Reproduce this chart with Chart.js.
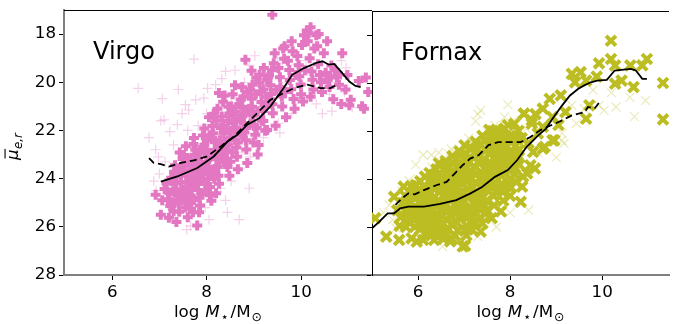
<!DOCTYPE html>
<html>
<head>
<meta charset="utf-8">
<script src="https://cdn.jsdelivr.net/npm/chart.js@4.4.1/dist/chart.umd.min.js"></script>
<style>
  html, body { margin: 0; padding: 0; background: #fff; }
  #wrap { position: relative; width: 680px; height: 324px; overflow: hidden; }
  #wrap canvas { position: absolute; left: 0; top: 0; }
</style>
</head>
<body>
<div id="wrap">
  <canvas id="virgo" width="680" height="324"></canvas>
  <canvas id="fornax" width="680" height="324"></canvas>
</div>
<script>
// tick values
const yTicks = [18, 20, 22, 24, 26, 28];
const xTicks = [6, 8, 10];

// Virgo: faint "+" sample and bold "P" sample, [logM, mu]
const virgoFaint = [
  [6.55,20.25],[7.73,19.04],[8.4,19.55],[8.19,20.1],[7.06,20.68],[7.55,20.93],[7.77,20.73],[7.94,20.66],
  [6.78,22.3],[7.1,21.56],[7.38,21.76],[7.03,21.6],[6.92,22.8],[7.22,22.05],[7.48,21.3],[7.62,21.15],
  [8.02,20.25],[8.32,19.85],[8.6,19.5],[8.9,19.3],[9.02,18.9],[9.6,19.2],[7.3,22.6],[7.12,23.3],
  [6.88,24.1],[7.0,23.8],[7.42,22.9],[7.82,21.8],[8.1,21.5],[8.52,20.6],[8.8,20.0],[9.22,19.8],
  [9.5,19.0],[9.9,19.25],[10.22,19.7],[10.45,21.3],[10.6,20.5],[10.85,19.1],[11.08,21.05],[10.92,20.4],
  [9.8,21.3],[9.52,21.7],[9.92,20.7],[9.2,22.3],[8.92,23.1],[8.7,23.6],[8.52,24.1],[8.3,24.4],
  [8.69,25.7],[8.44,25.4],[7.66,25.96],[7.58,26.12],[8.05,25.7],[7.97,25.2],[7.18,25.1],[6.93,24.5],
  [7.45,24.8],[7.85,24.7],[8.62,22.2],[9.02,21.2],[9.42,20.3],[10.02,20.1],[10.32,20.9],[10.72,20.0],
  [7.4,20.3],[7.6,22.0],[8.12,22.9],[8.75,22.9],[9.15,20.9],[9.7,20.0],[10.1,19.1],[10.55,19.95],
  [10.95,19.4],[8.3,21.0],[8.0,21.3],[9.55,22.1],[10.65,21.2],[6.98,23.1],[7.2,24.3],[8.4,24.9],[8.9,24.4]
];
const virgoBright = [
  [6.92,24.67],[7.03,25.5],[7.06,24.9],[7.11,24.43],
  [7.15,24.2],[7.18,24.86],[7.23,25.14],[7.25,23.96],[7.2,25.62],[7.29,24.52],[7.31,23.71],
  [7.33,23.44],[7.36,24.18],[7.38,24.71],[7.41,25.03],[7.42,25.37],[7.45,23.88],[7.47,24.46],[7.36,25.8],[7.49,23.18],[7.43,22.92],
  [7.52,23.02],[7.55,23.47],[7.58,23.79],[7.61,24.16],[7.62,24.57],[7.64,24.9],[7.67,25.24],[7.56,22.66],[7.69,24.31],[7.6,25.6],[7.71,23.62],[7.53,24.77],[7.65,23.21],
  [7.72,22.56],[7.74,23.01],[7.77,23.34],[7.78,23.71],[7.81,24.04],[7.82,24.47],[7.85,24.79],[7.86,25.11],[7.73,22.31],[7.88,23.49],[7.9,24.62],[7.84,25.4],[7.8,25.95],[7.75,24.26],[7.87,22.91],
  [7.92,22.21],[7.95,22.6],[7.96,22.94],[7.99,23.31],[8.0,23.66],[8.03,24.01],[8.04,24.36],[8.07,24.69],[7.95,21.92],[8.08,23.1],[8.1,24.92],[8.05,21.45],[7.93,23.82],[8.01,22.41],
  [8.12,21.81],[8.14,22.12],[8.17,22.49],[8.18,22.82],[8.21,23.19],[8.22,23.52],[8.25,23.88],[8.26,24.21],[8.15,21.31],[8.28,22.41],[8.3,23.02],[8.2,24.61],[8.26,20.45],[8.12,23.7],
  [8.32,21.42],[8.35,21.79],[8.36,22.12],[8.39,22.49],[8.4,22.81],[8.43,23.18],[8.44,23.52],[8.35,20.81],[8.46,21.02],[8.48,23.88],[8.5,22.01],[8.38,20.55],[8.45,21.61],
  [8.52,21.01],[8.55,21.32],[8.56,21.69],[8.59,22.02],[8.6,22.39],[8.63,22.71],[8.64,23.09],[8.55,20.5],[8.66,23.61],[8.68,21.49],[8.6,20.12],
  [8.72,20.71],[8.75,21.02],[8.76,21.39],[8.79,21.72],[8.8,22.08],[8.83,22.41],[8.84,22.79],[8.75,20.21],[8.86,23.35],[8.88,21.21],[8.82,19.07],
  [8.92,20.31],[8.95,20.68],[8.96,21.02],[8.99,21.39],[9.0,21.81],[9.03,22.18],[9.05,19.81],[9.08,23.0],[9.1,22.6],[8.95,19.52],
  [9.12,20.02],[9.15,20.39],[9.16,20.82],[9.19,21.19],[9.2,21.61],[9.21,19.41],[9.24,22.01],[9.26,20.6],[9.28,19.9],[9.28,21.98],
  [9.32,19.71],[9.35,20.12],[9.36,20.49],[9.39,20.91],[9.4,21.29],[9.42,19.21],[9.44,18.8],[9.46,21.8],[9.39,17.2],[9.48,20.31],
  [9.52,19.41],[9.55,19.79],[9.56,20.21],[9.59,20.59],[9.6,21.01],[9.62,18.6],[9.65,18.5],[9.64,19.02],[9.68,21.45],[9.66,20.4],
  [9.72,19.11],[9.75,19.49],[9.76,19.91],[9.79,20.29],[9.8,18.3],[9.82,18.71],[9.84,20.69],[9.86,21.1],[9.88,19.7],
  [9.92,18.91],[9.95,19.29],[9.96,19.75],[9.99,20.09],[10.0,20.5],[10.02,18.45],[10.04,20.8],[10.06,18.05],[10.08,19.5],
  [10.12,17.85],[10.16,17.96],[10.2,17.72],[10.14,18.3],[10.18,19.0],[10.22,19.55],[10.24,19.9],[10.26,20.3],[10.28,18.6],[10.2,20.6],
  [10.32,18.05],[10.37,18.0],[10.34,18.5],[10.36,19.25],[10.4,19.7],[10.42,20.0],[10.44,20.4],[10.48,18.8],
  [10.55,18.3],[10.52,19.6],[10.56,19.9],[10.6,20.2],[10.64,19.3],[10.68,20.7],[10.62,19.75],
  [10.72,19.5],[10.76,19.8],[10.87,18.8],[10.8,20.1],[10.85,20.9],[10.78,19.65],
  [10.94,20.3],[10.98,19.7],[11.05,20.73],[11.02,20.95],
  [11.22,19.95],[11.29,21.0],[11.33,21.1],[11.37,19.8],[11.42,20.4],
  // core fill
  [7.21,24.6],[7.27,24.1],[7.32,25.0],[7.34,24.45],[7.39,23.8],[7.4,24.9],[7.46,24.15],[7.5,24.6],[7.3,25.35],[7.44,23.6],
  [7.54,23.7],[7.57,24.35],[7.6,23.3],[7.63,24.0],[7.66,24.7],[7.69,23.45],[7.7,24.05],[7.73,24.9],[7.76,22.8],[7.79,23.9],
  [7.62,25.0],[7.71,25.4],[7.55,25.2],
  [7.82,23.2],[7.85,23.6],[7.88,24.1],[7.91,22.7],[7.94,23.45],[7.97,24.2],[8.0,22.8],[8.03,23.5],[8.06,22.2],[8.09,23.85],
  [7.98,24.5],[8.07,24.35],
  [8.12,22.3],[8.15,22.95],[8.18,23.6],[8.21,21.6],[8.24,22.65],[8.27,23.3],[8.3,21.9],[8.33,22.8],[8.36,23.3],[8.16,24.0],[8.23,21.1],
  [8.42,22.0],[8.45,22.6],[8.48,21.3],[8.51,22.3],[8.54,22.9],[8.57,21.6],[8.6,21.2],[8.63,21.9],[8.66,22.5],[8.69,20.9],[8.5,23.3],
  [8.72,21.5],[8.75,22.2],[8.78,20.6],[8.81,21.3],[8.84,21.9],[8.87,20.4],[8.9,21.1],[8.93,21.7],[8.97,20.1],[8.99,22.5],
  [9.04,20.5],[9.08,21.2],[9.12,19.7],[9.16,21.6],[9.2,20.3],[9.25,21.0],[9.3,19.8],[9.35,20.7],[9.38,19.5],[9.06,21.9]
];
// Virgo running curves
const virgoSolidX = [7.03,7.38,7.8,8.15,8.44,8.65,8.86,9.11,9.35,9.63,9.81,10.06,10.34,10.45,10.59,10.7,10.84,11.02,11.15,11.26];
const virgoSolidY = [24.12,23.91,23.56,23.08,22.46,22.18,21.76,21.49,21.0,20.24,19.69,19.41,19.18,19.13,19.27,19.24,19.55,19.97,20.15,20.2];
const virgoDashX = [6.78,6.88,7.03,7.2,7.45,7.73,8.01,8.3,8.58,8.86,9.14,9.35,9.63,9.85,10.13,10.41,10.62,10.77];
const virgoDashY = [23.15,23.35,23.4,23.5,23.35,23.24,23.08,22.66,22.25,21.69,21.14,20.73,20.45,20.24,20.1,20.24,20.24,20.1];

// Fornax: faint "x" sample and bold "X" sample, [logM, mu]
const fornaxFaint = [
  [7.36,21.14],[7.3,21.3],[7.88,21.42],[7.67,21.76],[7.18,22.46],[8.08,21.56],[9.12,22.39],[9.44,21.69],
  [9.34,20.93],[9.61,21.07],[10.94,20.73],[10.04,21.14],[9.13,22.1],[9.17,22.52],[9.93,20.93],[6.11,23.0],
  [6.29,23.0],[6.45,22.9],[6.66,22.94],[6.87,23.0],[6.98,22.59],[7.05,22.7],[6.3,23.5],[5.95,23.4],
  [6.5,23.3],[6.72,22.75],[7.5,22.0],[7.75,22.3],[8.2,22.0],[8.6,22.9],[9.0,23.1],[9.8,20.3],
  [10.3,21.0],[10.6,20.6],[6.53,26.81],[5.52,26.05],[5.37,25.08],[5.25,25.4],[5.65,24.5],[5.8,24.05],
  [6.0,24.0],[8.4,25.3],[7.7,26.0],[8.0,25.4],[7.3,26.4],[5.45,25.7],[6.9,26.5],[7.1,22.3],
  [7.4,22.6],[7.25,21.6],[7.95,20.9],[8.35,21.9],[9.25,21.2],[10.7,21.4],[10.2,20.4]
];
const fornaxBright = [
  [5.48,24.74],[5.55,25.3],[5.62,25.6],[5.69,24.32],[5.66,25.0],[5.6,25.95],[5.31,26.4],[5.07,25.63],[5.59,26.54],
  [5.72,24.7],[5.75,25.1],[5.78,25.45],[5.8,25.8],[5.83,24.95],[5.86,25.3],[5.88,25.65],[5.86,26.47],[5.74,26.0],[5.9,24.55],
  [5.92,24.8],[5.94,25.15],[5.97,25.5],[6.0,25.85],[6.02,24.45],[6.05,24.9],[6.07,25.3],[6.09,25.7],[5.97,26.61],[6.04,26.1],[5.95,24.25],
  [6.12,24.3],[6.14,24.65],[6.16,25.0],[6.18,25.35],[6.2,25.7],[6.22,26.05],[6.24,24.1],[6.26,24.85],[6.28,25.2],[6.3,25.55],[6.11,26.54],[6.25,25.9],
  [6.32,24.0],[6.34,24.4],[6.36,24.75],[6.38,25.1],[6.4,25.45],[6.42,25.8],[6.44,26.15],[6.35,26.54],[6.46,24.2],[6.48,24.95],[6.5,25.3],[6.47,25.65],[6.33,23.85],
  [6.52,23.9],[6.54,24.3],[6.56,24.65],[6.58,25.0],[6.6,25.35],[6.62,25.7],[6.64,26.05],[6.66,24.1],[6.68,24.8],[6.7,25.5],[6.7,26.6],[6.6,26.3],[6.55,23.6],
  [6.72,23.7],[6.74,24.05],[6.76,24.4],[6.78,24.75],[6.8,25.1],[6.82,25.45],[6.84,25.8],[6.86,26.15],[6.88,23.9],[6.9,24.6],[6.85,25.3],[6.78,23.35],
  [6.92,23.5],[6.94,23.85],[6.96,24.2],[6.98,24.55],[7.0,24.9],[7.02,25.25],[7.04,25.6],[7.06,25.95],[6.97,26.81],[7.02,26.78],[7.08,24.0],[7.1,24.75],[7.0,23.2],
  [7.12,23.3],[7.14,23.65],[7.16,24.0],[7.18,24.35],[7.2,24.7],[7.22,25.05],[7.24,25.4],[7.18,26.12],[7.26,23.8],[7.28,24.5],[7.3,25.2],[7.22,22.9],[7.15,25.75],
  [7.32,23.0],[7.34,23.35],[7.36,23.7],[7.38,24.05],[7.4,24.4],[7.42,24.75],[7.44,25.1],[7.46,25.45],[7.48,22.8],[7.5,23.55],[7.45,24.25],[7.35,22.55],[7.4,22.2],
  [7.52,22.6],[7.54,22.95],[7.56,23.3],[7.58,23.65],[7.6,24.0],[7.62,24.35],[7.64,24.7],[7.6,25.63],[7.57,22.25],[7.66,23.1],[7.68,23.85],[7.7,24.5],[7.65,25.1],[7.55,21.95],
  [7.72,22.45],[7.74,22.8],[7.76,23.15],[7.78,23.5],[7.8,23.85],[7.82,24.2],[7.84,24.55],[7.86,22.6],[7.88,21.9],[7.9,23.3],[7.85,24.9],[7.75,22.1],
  [7.92,22.6],[7.94,22.95],[7.96,23.3],[7.98,23.65],[8.0,24.0],[8.02,24.35],[8.05,22.4],[8.08,23.1],[8.1,23.8],[7.95,21.75],
  [8.13,22.6],[8.16,23.0],[8.2,23.4],[8.23,24.95],[8.25,22.3],[8.28,23.9],[8.3,21.28],[8.18,22.0],
  [6.25,23.75],[6.4,23.6],[6.45,23.35],[6.6,23.25],[6.65,23.5],[6.75,23.05],[6.85,23.15],[6.9,22.85],
  [7.05,22.95],[7.15,22.7],[7.25,22.45],[7.3,22.75],[7.45,22.4],[6.95,23.7],[6.5,26.1],[6.8,26.35],
  [7.05,26.35],[6.3,26.2],[7.25,25.8],[7.4,25.85],[5.85,24.3],[6.05,24.1],[6.15,23.9],[7.6,22.55],
  [7.8,22.3],[8.0,22.2],[8.15,22.35],[7.7,22.0],[7.42,23.85],[7.8,25.35],[8.0,24.7],[7.5,25.3],
  [6.55,25.85],[6.1,25.55],[6.95,25.55],[7.3,24.95],[7.36,26.19],
  [8.37,23.77],[8.54,23.56],[8.44,23.43],[8.26,24.32],[8.5,22.87],[8.71,22.73],[8.96,22.39],[8.75,22.66],
  [8.47,21.56],[8.47,21.69],[8.71,21.83],[8.92,21.42],[8.92,22.39],[8.09,21.7],[7.84,21.97],[8.3,21.28],
  [8.71,21.07],[8.86,20.66],[9.1,20.52],[9.2,21.21],[9.65,21.49],[9.72,20.93],[9.34,19.62],[9.53,19.55],
  [9.41,19.97],[9.65,19.9],[9.88,19.73],[9.93,19.18],[10.19,19.0],[10.19,18.24],[10.28,19.27],[10.61,19.27],
  [10.87,19.27],[10.97,19.0],[10.42,19.9],[10.28,20.03],[10.68,20.17],[11.32,20.0],[11.32,21.52],[8.6,22.1],
  [8.4,22.5],[8.55,21.3],[9.05,21.75],
  // core fill
  [5.73,25.3],[5.77,24.9],[5.81,25.6],[5.85,24.7],[5.89,25.45],[5.93,26.0],[5.96,24.6],[5.99,25.3],
  [6.03,25.6],[6.06,24.7],[6.1,25.1],[6.13,25.85],[6.17,24.45],[6.2,25.2],[6.23,25.5],[6.27,24.6],[6.29,26.35],[6.19,26.2],
  [6.33,25.3],[6.37,24.2],[6.4,25.0],[6.43,25.6],[6.46,24.55],[6.5,25.95],[6.53,24.1],[6.57,25.2],[6.59,24.45],[6.42,26.4],[6.55,26.5],
  [6.63,24.6],[6.67,25.3],[6.7,23.9],[6.73,24.6],[6.77,25.9],[6.8,24.2],[6.83,25.0],[6.87,24.4],[6.89,25.6],[6.75,26.5],[6.65,23.8],
  [6.93,24.1],[6.97,24.9],[7.0,25.4],[7.03,23.6],[7.07,24.4],[7.1,25.2],[7.13,23.9],[7.17,24.6],[7.19,25.3],[7.08,26.1],[7.01,22.6],
  [7.23,23.5],[7.27,24.2],[7.3,23.3],[7.33,24.7],[7.37,23.9],[7.4,25.2],[7.43,23.2],[7.47,24.0],[7.49,24.9],[7.35,25.6],
  [7.53,23.9],[7.56,24.3],[7.6,22.8],[7.63,23.5],[7.67,24.2],[7.7,22.6],[7.73,23.4],[7.77,24.4],[7.79,22.2],[7.62,22.0],
  [7.83,23.0],[7.87,23.7],[7.9,22.2],[7.93,24.3],[7.97,22.4],[8.0,23.5],[8.04,22.9],[8.07,23.4],[8.12,24.1],[8.15,23.3],[8.19,22.8]
];
// Fornax running curves
const fornaxSolidX = [5.0,5.16,5.34,5.48,5.61,5.79,6.13,6.48,6.83,7.14,7.39,7.67,7.95,8.15,8.36,8.61,8.78,8.92,9.13,9.3,9.48,9.61,9.75,9.89,10.1,10.27,10.62,10.73,10.87,10.97];
const fornaxSolidY = [26.05,25.78,25.43,25.43,25.22,25.15,25.15,25.04,24.88,24.6,24.33,23.91,23.63,23.22,22.66,22.18,21.9,21.49,20.93,20.52,20.24,20.1,19.97,19.9,19.87,19.48,19.41,19.48,19.83,19.83];
const fornaxDashX = [5.51,5.65,5.79,5.93,6.13,6.41,6.62,6.8,6.97,7.14,7.32,7.53,7.74,8.02,8.23,8.44,8.65,8.89,9.13,9.34,9.62,9.69,9.83,9.97];
const fornaxDashY = [25.08,24.81,24.6,24.64,24.46,24.25,24.12,23.77,23.42,23.14,23.0,22.59,22.46,22.46,22.46,22.25,21.97,21.76,21.56,21.35,21.21,21.0,21.07,20.73];

const PINK = '#e377c2';
const OLIVE = '#bcbd22';
const FONT = '"DejaVu Sans", sans-serif';

const toPts = (pairs) => pairs.map(([x, y]) => ({ x, y }));
const zipPts = (xs, ys) => xs.map((x, i) => ({ x, y: ys[i] }));

function drawMassLabel(ctx, cx, base) {
  const parts = [
    { t: 'log', f: '16.7px ' + FONT, dy: 0, gap: 6 },
    { t: 'M', f: 'italic 16.7px ' + FONT, dy: 0, gap: 1 },
    { t: '\u22c6', f: '12.5px ' + FONT, dy: 3.5, gap: 2 },
    { t: '/M', f: '16.7px ' + FONT, dy: 0, gap: 1 },
    { t: '\u2299', f: '12.5px ' + FONT, dy: 3.5, gap: 0 },
  ];
  let w = 0;
  parts.forEach((p) => { ctx.font = p.f; p.w = ctx.measureText(p.t).width; w += p.w + p.gap; });
  let x = cx - w / 2;
  ctx.textBaseline = 'alphabetic';
  parts.forEach((p) => { ctx.font = p.f; ctx.fillText(p.t, x, base + p.dy); x += p.w + p.gap; });
}

function drawMuLabel(ctx, bx, by) {
  ctx.save();
  ctx.translate(bx, by);
  ctx.rotate(-Math.PI / 2);
  ctx.textBaseline = 'alphabetic';
  ctx.font = 'italic 16.7px ' + FONT;
  const mw = ctx.measureText('\u03bc').width;
  ctx.fillText('\u03bc', 0, 0);
  ctx.fillRect(1.5, -13.5, mw - 1, 1.1);
  ctx.font = 'italic 11.7px ' + FONT;
  ctx.fillText('e,r', mw + 0.5, 3.5);
  ctx.restore();
}

const panelDecor = {
  id: 'panelDecor',
  afterDraw(chart, args, opts) {
    const { ctx, chartArea: a } = chart;
    ctx.save();
    ctx.strokeStyle = '#000';
    ctx.lineWidth = 1;
    ctx.beginPath();
    ctx.moveTo(a.left, Math.round(a.top) + 0.5);
    ctx.lineTo(a.right, Math.round(a.top) + 0.5);
    ctx.stroke();
    ctx.fillStyle = '#000';
    ctx.font = '24px ' + FONT;
    ctx.textBaseline = 'alphabetic';
    ctx.fillText(opts.name, a.left + 29, a.top + 49);
    drawMassLabel(ctx, (a.left + a.right) / 2, 317);
    if (opts.yTitle) drawMuLabel(ctx, 18, 160);
    ctx.restore();
  },
};

function makePanel(id, cfg) {
  const ctx = document.getElementById(id).getContext('2d');
  return new Chart(ctx, {
    type: 'scatter',
    data: {
      datasets: [
        { type: 'line', data: zipPts(cfg.solidX, cfg.solidY), borderColor: '#000', borderWidth: 1.8,
          pointRadius: 0, fill: false, tension: 0, order: 0, clip: 0 },
        { type: 'line', data: zipPts(cfg.dashX, cfg.dashY), borderColor: '#000', borderWidth: 1.8,
          borderDash: [7, 4], pointRadius: 0, fill: false, tension: 0, order: 0, clip: 0 },
        { data: toPts(cfg.bright), pointStyle: cfg.style, pointRadius: cfg.brightR, borderWidth: 4,
          pointBorderColor: cfg.color, pointBackgroundColor: cfg.color, order: 1, clip: 0 },
        { data: toPts(cfg.faint), pointStyle: cfg.style, pointRadius: cfg.faintR, borderWidth: 1.2,
          pointBorderColor: cfg.faintColor, pointBackgroundColor: cfg.faintColor, order: 2, clip: 0 },
      ],
    },
    options: {
      responsive: false,
      animation: false,
      events: [],
      layout: { padding: cfg.padding },
      plugins: {
        legend: { display: false },
        tooltip: { enabled: false },
        panelDecor: { name: cfg.name, yTitle: cfg.yTitle },
      },
      scales: {
        x: {
          type: 'linear',
          min: cfg.xMin,
          max: cfg.xMax,
          afterBuildTicks: (s) => { s.ticks = xTicks.map((v) => ({ value: v })); },
          afterFit: (s) => { s.height = 49; s.paddingLeft = 0; s.paddingRight = 0; },
          grid: { drawOnChartArea: false, drawTicks: true, tickLength: 5, tickColor: '#000', tickWidth: 1 },
          border: { display: true, color: '#808080', width: 2 },
          ticks: { color: '#000', padding: 3, maxRotation: 0, font: { family: FONT, size: 16.7 } },
        },
        y: {
          type: 'linear',
          reverse: true,
          min: 17,
          max: 28,
          afterBuildTicks: (s) => { s.ticks = yTicks.map((v) => ({ value: v })); },
          afterFit: (s) => { s.width = cfg.yWidth; s.paddingTop = 0; s.paddingBottom = 0; },
          grid: { drawOnChartArea: false, drawTicks: true, tickLength: 5, tickColor: '#000', tickWidth: 1 },
          border: { display: true, color: cfg.yBorder, width: cfg.yBorderW },
          ticks: { display: cfg.yLabels, color: '#000', padding: 3, font: { family: FONT, size: 16.7 } },
        },
      },
    },
    plugins: [panelDecor],
  });
}

makePanel('virgo', {
  name: 'Virgo', yTitle: true,
  solidX: virgoSolidX, solidY: virgoSolidY, dashX: virgoDashX, dashY: virgoDashY,
  bright: virgoBright, faint: virgoFaint,
  style: 'cross', brightR: 5, faintR: 5,
  color: PINK, faintColor: 'rgba(227,119,194,0.35)',
  xMin: 4.98, xMax: 11.5,
  padding: { left: 0, right: 308, top: 10, bottom: 0 },
  yWidth: 64, yLabels: true, yBorder: '#808080', yBorderW: 2,
});

makePanel('fornax', {
  name: 'Fornax', yTitle: false,
  solidX: fornaxSolidX, solidY: fornaxSolidY, dashX: fornaxDashX, dashY: fornaxDashY,
  bright: fornaxBright, faint: fornaxFaint,
  style: 'crossRot', brightR: 7, faintR: 6.3,
  color: OLIVE, faintColor: 'rgba(188,189,34,0.3)',
  xMin: 5, xMax: 11.45,
  padding: { left: 362, right: 0, top: 10, bottom: 0 },
  yWidth: 10, yLabels: false, yBorder: '#000', yBorderW: 1,
});
</script>
</body>
</html>
